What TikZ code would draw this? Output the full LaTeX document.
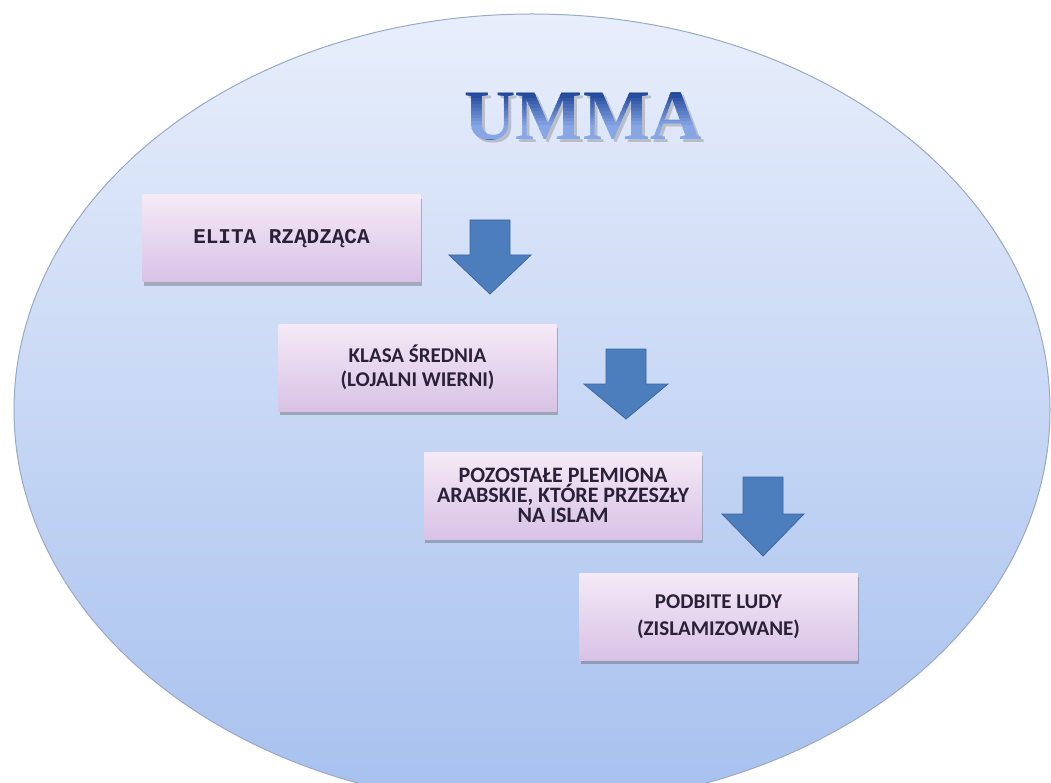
\documentclass[tikz,border=0pt]{standalone}
\usepackage{fontspec}
\setmainfont{Carlito}
\newfontfamily\monofnt{Liberation Mono}
\newfontfamily\titlefnt{Liberation Serif}
\usetikzlibrary{shadows}
\definecolor{ellTop}{HTML}{E8EEFB}
\definecolor{ellBot}{HTML}{A6C0EE}
\definecolor{ellEdge}{HTML}{9AAAC4}
\definecolor{boxTop}{HTML}{F5EAF6}
\definecolor{boxBot}{HTML}{D8C2E6}
\definecolor{boxText}{HTML}{2A2138}
\definecolor{arrowFill}{HTML}{4C7EBE}
\definecolor{arrowEdge}{HTML}{3A679E}
\definecolor{titleTop}{HTML}{123A8E}
\definecolor{titleBot}{HTML}{86A6E6}

\tikzset{
  stepbox/.style={rectangle, top color=boxTop, bottom color=boxBot, draw=none,
    minimum width=278pt, minimum height=87pt, align=center, text=boxText,
    drop shadow={shadow xshift=1pt, shadow yshift=-4pt, opacity=0.35, fill=black!70},
    font=\bfseries\fontsize{21}{24}\selectfont},
  blockarrow/.style={fill=arrowFill, draw=arrowEdge, line width=0.8pt, line join=miter},
  titletext/.style={inner sep=0pt, font=\titlefnt\bfseries\fontsize{71}{71}\selectfont},
}

\begin{document}
\begin{tikzpicture}[x=1pt,y=-1pt]
\useasboundingbox (0,0) rectangle (1051,783);
\fill[white] (0,0) rectangle (1051,783);
\begin{scope}
\clip (0,0) rectangle (1051,783);
\draw[draw=ellEdge, line width=1pt, top color=ellTop, bottom color=ellBot] (532,410) ellipse [x radius=518pt, y radius=396pt];
\end{scope}

% title (gradient simulated by clipped bands)
\node[titletext, text=black!50, opacity=0.4] (titleshadow) at (586,119) {UMMA};
\foreach \i in {0,...,15}{
  \pgfmathsetmacro{\mix}{min(100,\i*100/11)}
  \begin{scope}
    \clip (430,{88+\i*3.4}) rectangle (740,{88+(\i+1)*3.4+0.3});
    \node[titletext, text=titleBot!\mix!titleTop] at (583,116) {UMMA};
  \end{scope}
}
\begin{scope}
  \clip (430,139.5) rectangle (740,150);
  \node[titletext, text=titleTop!80!titleBot] at (583,116) {UMMA};
\end{scope}
\node[inner sep=0pt] (title) at (583,116) {};

% boxes
\node[stepbox, font=\monofnt\bfseries\fontsize{21}{24}\selectfont] (b1) at (281.5,238.5) {ELITA RZĄDZĄCA};
\node[stepbox] (b2) at (417.5,367.5) {KLASA ŚREDNIA\\(LOJALNI WIERNI)};
\node[stepbox, font=\bfseries\fontsize{22}{20}\selectfont] (b3) at (563,495.5) {POZOSTAŁE PLEMIONA\\ARABSKIE, KTÓRE PRZESZŁY\\NA ISLAM};
\node[stepbox, font=\bfseries\fontsize{21}{27}\selectfont] (b4) at (718.5,616.5) {PODBITE LUDY\\(ZISLAMIZOWANE)};

% arrows
\begin{scope}[shift={(490,220)}]
\filldraw[blockarrow] (-20,0) -- (20,0) -- (20,35) -- (41,35) -- (0,74) -- (-41,35) -- (-20,35) -- cycle;
\end{scope}
\begin{scope}[shift={(626,349)}]
\filldraw[blockarrow] (-20,0) -- (20,0) -- (20,35) -- (42,35) -- (0,70) -- (-42,35) -- (-20,35) -- cycle;
\end{scope}
\begin{scope}[shift={(763,477)}]
\filldraw[blockarrow] (-20,0) -- (20,0) -- (20,37) -- (41,37) -- (0,79) -- (-41,37) -- (-20,37) -- cycle;
\end{scope}
\end{tikzpicture}
\end{document}
